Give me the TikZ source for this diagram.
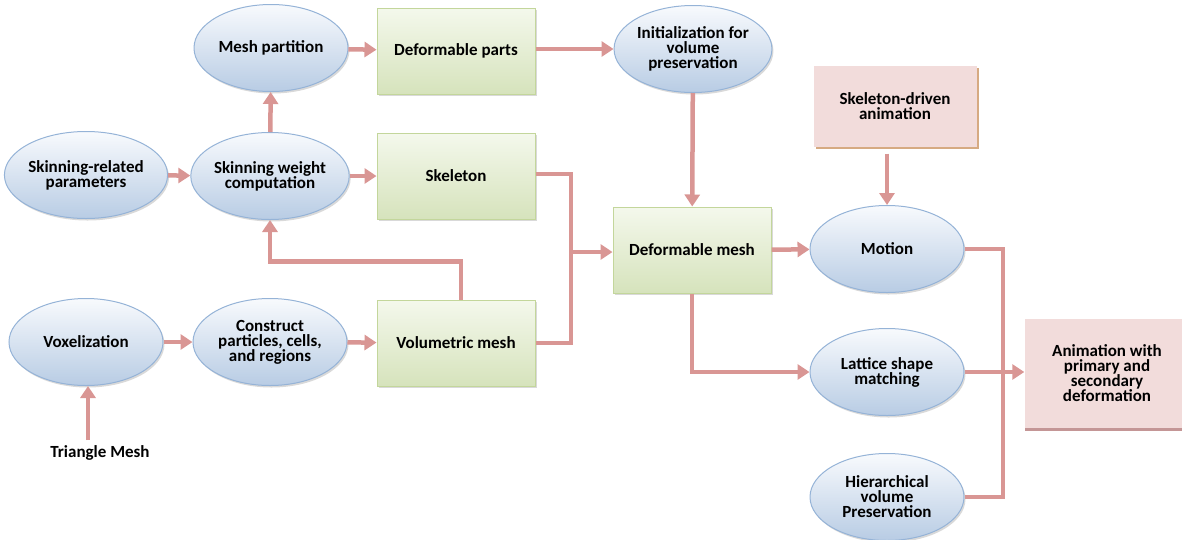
\documentclass[tikz,border=0pt]{standalone}
\usepackage{fontspec}
\setmainfont{Carlito}
\usepackage{xcolor}
\usepackage{tikz}
\usetikzlibrary{arrows.meta,calc,positioning,shadows,shapes.geometric}

\definecolor{linkred}{RGB}{217,150,148}
\definecolor{ovalline}{RGB}{149,179,215}
\definecolor{ovaltop}{RGB}{248,250,253}
\definecolor{ovalbottom}{RGB}{184,204,228}
\definecolor{boxline}{RGB}{195,214,155}
\definecolor{boxtop}{RGB}{244,248,236}
\definecolor{boxbottom}{RGB}{214,227,188}
\definecolor{pinkfill}{RGB}{242,220,219}
\definecolor{pinkshadow}{RGB}{196,150,150}
\definecolor{tanshadow}{RGB}{214,170,130}

\begin{document}
\begin{tikzpicture}[
    x=1pt, y=-1pt,
    every node/.style={font=\bfseries\fontsize{17}{15}\selectfont, align=center},
    oval/.style={
        ellipse, draw=ovalline, line width=1pt,
        top color=ovaltop, bottom color=ovalbottom,
        minimum width=154pt, minimum height=87pt, inner sep=0,
        drop shadow={shadow xshift=1.5pt, shadow yshift=-2pt, opacity=0.3}},
    stagebox/.style={
        rectangle, draw=boxline, line width=1pt,
        top color=boxtop, bottom color=boxbottom,
        minimum width=158pt, minimum height=86pt, inner sep=0,
        drop shadow={shadow xshift=2pt, shadow yshift=-2pt, opacity=0.3}},
    pinkbox/.style={
        rectangle, fill=pinkfill, inner sep=0},
    link/.style={draw=linkred, line width=4.5pt},
    arrowlink/.style={link, -{Triangle[length=12pt,width=15pt]}}]

\clip (0,0) rectangle (1182,539);

\node[oval] (params) at (86,175) {Skinning-related\\parameters};
\node[oval] (weights) at (270,176) {Skinning weight\\computation};
\node[oval] (partition) at (271,48) {Mesh partition};
\node[oval] (voxel) at (86,342) {Voxelization};
\node[oval] (construct) at (270,342) {Construct\\particles, cells,\\and regions};
\node[oval] (init) at (693,49) {Initialization for\\volume\\preservation};
\node[oval] (motion) at (887,249) {Motion};
\node[oval] (lattice) at (887,372) {Lattice shape\\matching};
\node[oval] (hier) at (887,497) {Hierarchical\\volume\\Preservation};

\node[stagebox] (defparts) at (456,51) {Deformable parts};
\node[stagebox] (skeleton) at (456,176) {Skeleton};
\node[stagebox] (volmesh) at (456,343) {Volumetric mesh};
\node[stagebox] (defmesh) at (692,250) {Deformable mesh};

\node[pinkbox, minimum width=163pt, minimum height=81pt,
    drop shadow={shadow xshift=2.5pt, shadow yshift=-2.5pt, fill=tanshadow, opacity=1}]
    (skeldriven) at (895,106) {Skeleton-driven\\animation};
\node[pinkbox, minimum width=165pt, minimum height=109pt,
    drop shadow={shadow xshift=0pt, shadow yshift=-3pt, fill=pinkshadow, opacity=1}]
    (anim) at (1107,373) {Animation with\\primary and\\secondary\\deformation};

\node (trimesh) at (100,453) {Triangle Mesh};

\coordinate (merge) at (571,252);
\coordinate (joint) at (1003,375);

\draw[arrowlink] (params) -- (weights);
\draw[arrowlink] (weights) -- (partition);
\draw[arrowlink] (partition) -- (defparts);
\draw[arrowlink] (weights) -- (skeleton);
\draw[arrowlink] (defparts.east |- init) -- (init);
\draw[arrowlink] (init) -- (defmesh);
\draw[arrowlink] (voxel) -- (construct);
\draw[arrowlink] (construct) -- (volmesh);
\draw[arrowlink, shorten <=2pt] ([xshift=2pt]trimesh.north -| voxel) -- ([xshift=2pt]voxel.south);
\draw[arrowlink] ([xshift=5pt]volmesh.north) -- ++(0,-38) -| (weights.south);
\draw[link] ([yshift=2pt]skeleton.east) -| (merge);
\draw[link] (volmesh.east) -| (merge);
\draw[arrowlink] (merge) -- (defmesh.west |- merge);
\draw[arrowlink] (defmesh) -- (motion);
\draw[arrowlink] (defmesh.south) |- (lattice.west);
\draw[arrowlink, shorten <=7pt] (skeldriven.south -| motion.north) -- (motion.north);
\draw[link] (motion.east) -| (joint);
\draw[link] (hier.east) -| (joint);
\draw[arrowlink] (lattice.east) -- (anim.west |- lattice.east);

\end{tikzpicture}
\end{document}
